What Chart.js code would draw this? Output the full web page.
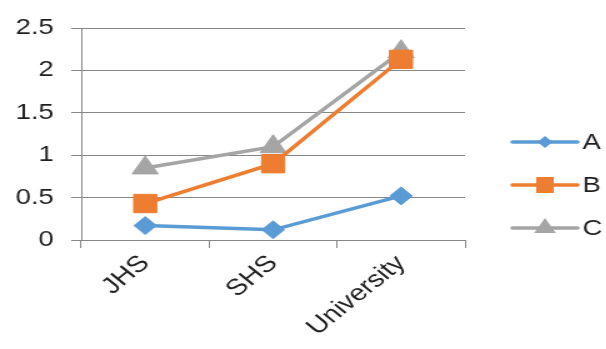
<!DOCTYPE html>
<html>
<head>
<meta charset="utf-8">
<script src="https://cdn.jsdelivr.net/npm/chart.js@4/dist/chart.umd.min.js"></script>
<style>
  html, body { margin: 0; padding: 0; background: #fff; overflow: hidden; }
  #wrap { width: 485px; height: 349px; transform: scaleX(1.25); transform-origin: 0 0; }
</style>
</head>
<body>
<div id="wrap"><canvas id="lineChart" width="485" height="349"></canvas></div>
<script>
// chart values
const categories = ['JHS', 'SHS', 'University'];
const seriesNames = ['A', 'B', 'C'];
const seriesA = [0.17, 0.12, 0.52];
const seriesB = [0.43, 0.90, 2.13];
const seriesC = [0.85, 1.10, 2.22];
const yMin = 0;
const yMax = 2.5;
const yStep = 0.5;

const colors = ['#5B9BD5', '#ED7D31', '#A5A5A5'];
const markers = ['rectRot', 'rect', 'triangle'];
const markerSizes = [9, 13, 12];
const fontFamily = '"Liberation Sans", Arial, sans-serif';
const textColor = '#1e1e1e';
const gridColor = '#878787';

// legend drawn as line + marker, like the original
const sideLegend = {
  id: 'sideLegend',
  afterDraw(chart) {
    const ctx = chart.ctx;
    const area = chart.chartArea;
    const x0 = area.right + 38;
    const x1 = x0 + 52;
    chart.data.datasets.forEach((ds, i) => {
      const y = area.top + 114 + i * 43;
      ctx.save();
      ctx.strokeStyle = ds.borderColor;
      ctx.fillStyle = ds.borderColor;
      ctx.lineWidth = 3.5;
      ctx.lineCap = 'round';
      ctx.beginPath();
      ctx.moveTo(x0, y);
      ctx.lineTo(x1, y);
      ctx.stroke();
      const cx = (x0 + x1) / 2;
      ctx.beginPath();
      if (ds.pointStyle === 'rectRot') {
        const r = 6;
        ctx.moveTo(cx, y - r); ctx.lineTo(cx + r, y); ctx.lineTo(cx, y + r); ctx.lineTo(cx - r, y);
      } else if (ds.pointStyle === 'rect') {
        ctx.rect(cx - 7, y - 8, 14, 16);
      } else {
        const r = 10;
        ctx.moveTo(cx, y - r); ctx.lineTo(cx + r * 0.87, y + r / 2); ctx.lineTo(cx - r * 0.87, y + r / 2);
      }
      ctx.closePath();
      ctx.fill();
      ctx.fillStyle = textColor;
      ctx.font = '22px ' + fontFamily;
      ctx.textBaseline = 'middle';
      ctx.textAlign = 'left';
      ctx.fillText(ds.label, x1 + 4, y + 1);
      ctx.restore();
    });
  }
};

const ctx = document.getElementById('lineChart').getContext('2d');
const chart = new Chart(ctx, {
  type: 'line',
  data: {
    labels: categories,
    datasets: [seriesA, seriesB, seriesC].map((vals, i) => ({
      label: seriesNames[i],
      data: vals,
      borderColor: colors[i],
      backgroundColor: colors[i],
      borderWidth: 3.5,
      pointStyle: markers[i],
      pointRadius: markerSizes[i],
      pointBorderWidth: 1,
      tension: 0,
      fill: false
    }))
  },
  options: {
    responsive: false,
    animation: false,
    devicePixelRatio: 1,
    layout: { padding: { top: 28, right: 113, left: 0, bottom: 0 } },
    plugins: {
      legend: { display: false },
      tooltip: { enabled: false }
    },
    scales: {
      x: {
        offset: true,
        grid: { offset: true, drawOnChartArea: false, drawTicks: true, tickLength: 8, color: gridColor },
        border: { display: true, color: gridColor },
        ticks: {
          minRotation: 45, maxRotation: 45, padding: 2,
          color: textColor, font: { family: fontFamily, size: 23 }
        },
        afterFit(scale) { scale.height = 109; }
      },
      y: {
        min: yMin,
        max: yMax,
        grid: { color: gridColor, tickLength: 8 },
        border: { display: true, color: gridColor },
        ticks: {
          stepSize: yStep, padding: 14,
          color: textColor, font: { family: fontFamily, size: 22 },
          callback: (v) => String(Math.round(v * 10) / 10)
        },
        afterFit(scale) { scale.width = 65; }
      }
    }
  },
  plugins: [sideLegend]
});
</script>
</body>
</html>
